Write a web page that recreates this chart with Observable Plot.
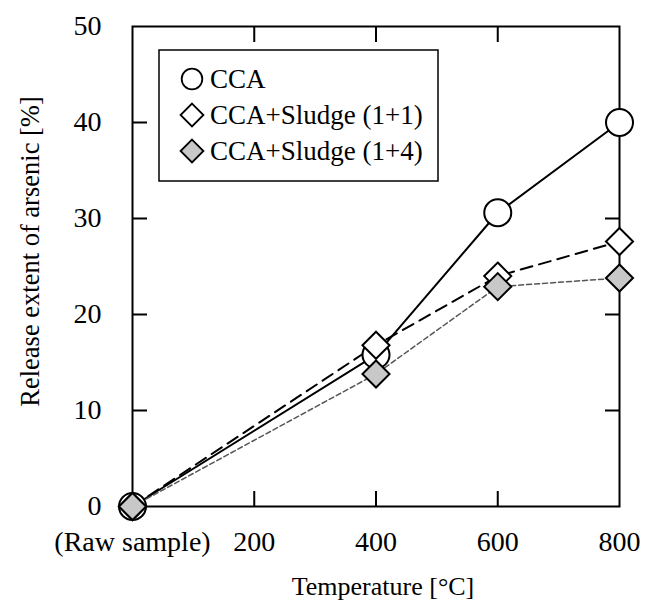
<!DOCTYPE html>
<html><head><meta charset="utf-8">
<script src="https://cdn.jsdelivr.net/npm/d3@7"></script>
<script src="https://cdn.jsdelivr.net/npm/@observablehq/plot@0.6"></script>
<style>body{margin:0;background:#fff}</style>
</head><body><div id="chart"></div>
<script>
const temperatures = [0, 400, 600, 800];
const ccaValues = [0, 15.8, 30.6, 40.0];
const sludge11Values = [0, 16.8, 24.0, 27.6];
const sludge14Values = [0, 13.8, 22.9, 23.8];
const seriesNames = ["CCA", "CCA+Sludge (1+1)", "CCA+Sludge (1+4)"];
const xTickValues = [0, 200, 400, 600, 800];
const xTickLabels = ["(Raw sample)", "200", "400", "600", "800"];
const yTickValues = [0, 10, 20, 30, 40, 50];
const innerXTicks = [200, 400, 600];
const innerYTicks = [10, 20, 30, 40];
const xTitle = "Temperature [°C]";
const yTitle = "Release extent of arsenic [%]";

const seriesValues = [ccaValues, sludge11Values, sludge14Values];
const styles = [
  {symbol: "circle", r: 13.5, fill: "white", stroke: "black", dash: null, lineColor: "black", lineWidth: 2},
  {symbol: "diamond2", r: 12.2, fill: "white", stroke: "black", dash: "12,7", lineColor: "black", lineWidth: 2},
  {symbol: "diamond2", r: 12.2, fill: "#c8c8c8", stroke: "black", dash: "5,3", lineColor: "#555", lineWidth: 1.5}
];
const rows = seriesNames.map((name, s) => temperatures.map((t, i) => ({series: name, x: t, y: seriesValues[s][i]})));

const lineMarks = rows.map((data, s) => Plot.line(data, {x: "x", y: "y", stroke: styles[s].lineColor, strokeWidth: styles[s].lineWidth, strokeDasharray: styles[s].dash}));
const dotMarks = rows.map((data, s) => Plot.dot(data, {x: "x", y: "y", symbol: styles[s].symbol, r: styles[s].r, fill: styles[s].fill, stroke: styles[s].stroke, strokeWidth: 2}));

const plot = Plot.plot({
  width: 650, height: 602,
  marginLeft: 132, marginRight: 31, marginTop: 26, marginBottom: 96,
  style: {fontFamily: "'Liberation Serif', 'Times New Roman', serif", fontSize: "26px", color: "black", background: "white"},
  x: {domain: [0, 800]},
  y: {domain: [0, 50]},
  marks: [
    Plot.axisY(innerYTicks, {anchor: "left", tickSize: -15, strokeWidth: 2, tickFormat: () => "", label: null}),
    Plot.axisY(innerYTicks, {anchor: "right", tickSize: -15, strokeWidth: 2, tickFormat: () => "", label: null}),
    Plot.axisX(innerXTicks, {anchor: "bottom", tickSize: -15, strokeWidth: 2, tickFormat: () => "", label: null}),
    Plot.axisX(innerXTicks, {anchor: "top", tickSize: -15, strokeWidth: 2, tickFormat: () => "", label: null}),
    Plot.axisY(yTickValues, {anchor: "left", tickSize: 0, tickPadding: 31, label: null, fontSize: 28}),
    Plot.axisX(xTickValues, {anchor: "bottom", tickSize: 0, tickPadding: 25, label: null, fontSize: 28,
      tickFormat: d => xTickLabels[xTickValues.indexOf(d)]}),
    Plot.frame({stroke: "black", strokeWidth: 2}),
    ...lineMarks,
    ...dotMarks,
    Plot.text([xTitle], {frameAnchor: "bottom", textAnchor: "middle", lineAnchor: "middle", dx: 7, dy: 80, fontSize: 26}),
    Plot.text([yTitle], {frameAnchor: "left", textAnchor: "middle", lineAnchor: "middle", dx: -102, dy: -15, rotate: -90, fontSize: 26.5})
  ]
});

// legend
const svg = d3.select(plot);
const lg = svg.append("g");
lg.append("rect").attr("x", 159).attr("y", 50).attr("width", 279).attr("height", 131)
  .attr("fill", "white").attr("stroke", "black").attr("stroke-width", 1.5);
const rowY = [79, 115, 151];
seriesNames.forEach((name, s) => {
  const st = styles[s];
  const sym = st.symbol === "circle" ? d3.symbolCircle : d3.symbolDiamond2;
  lg.append("path").attr("d", d3.symbol(sym, Math.PI * 10.3 * 10.3)())
    .attr("transform", `translate(192,${rowY[s]})`)
    .attr("fill", st.fill).attr("stroke", "black").attr("stroke-width", 1.8);
  lg.append("text").attr("x", 210).attr("y", rowY[s]).attr("dy", "0.35em")
    .attr("text-anchor", "start").attr("font-size", 27).attr("fill", "black").text(name);
});

document.getElementById("chart").appendChild(plot);
</script>
</body></html>
